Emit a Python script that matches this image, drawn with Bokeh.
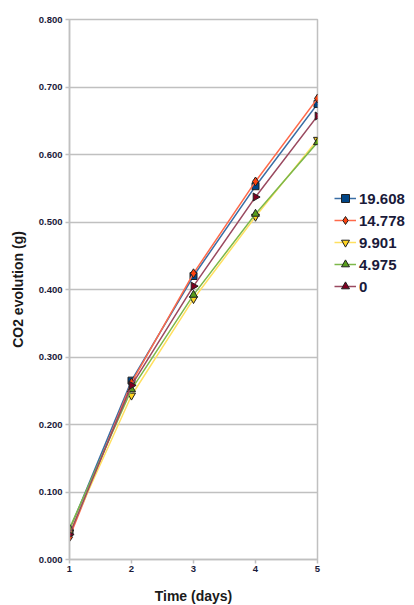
import numpy as np
from bokeh.plotting import figure
from bokeh.models import Legend, LegendItem, FixedTicker, CustomJSTickFormatter, Range1d
from bokeh.embed import file_html
from bokeh.resources import INLINE

days = [1, 2, 3, 4, 5]
series_names = ["19.608", "14.778", "9.901", "4.975", "0"]
s_19608 = [0.043, 0.265, 0.420, 0.553, 0.675]
s_14778 = [0.033, 0.262, 0.424, 0.560, 0.683]
s_9901 = [0.040, 0.243, 0.386, 0.508, 0.622]
s_4975 = [0.046, 0.252, 0.392, 0.512, 0.618]
s_0 = [0.037, 0.258, 0.405, 0.537, 0.657]
y_ticks = [0.0, 0.1, 0.2, 0.3, 0.4, 0.5, 0.6, 0.7, 0.8]

series = [s_19608, s_14778, s_9901, s_4975, s_0]
fills = ["#004586", "#ff420e", "#ffd320", "#579d1c", "#7e0021"]
lines = ["#3a6ea5", "#ff6a4a", "#ffe060", "#7db84a", "#9a4a60"]
markers = ["square", "diamond", "inverted_triangle", "triangle", "triangle"]
angles = [0, 0, 0, 0, -np.pi / 2]
sizes = [7, 9, 8, 8, 8]

p = figure(frame_width=248, frame_height=540, output_backend="svg", toolbar_location=None,
           x_range=Range1d(1, 5), y_range=Range1d(0, 0.8),
           min_border_left=69, min_border_right=0, min_border_top=19, min_border_bottom=30)
p.outline_line_color = "#c0c0c0"
p.outline_line_width = 1.5

p.xaxis.ticker = FixedTicker(ticks=days)
p.yaxis.ticker = FixedTicker(ticks=y_ticks)
p.yaxis.formatter = CustomJSTickFormatter(code="return tick.toFixed(3);")
p.xgrid.visible = False
p.ygrid.grid_line_color = "#c0c0c0"
p.ygrid.grid_line_width = 1.5
for ax in (p.xaxis, p.yaxis):
    ax.axis_line_color = "#c0c0c0"
    ax.axis_line_width = 1.5
    ax.major_tick_line_color = "#c0c0c0"
    ax.major_tick_line_width = 1.5
    ax.minor_tick_line_color = None
    ax.major_tick_out = 4
    ax.major_tick_in = 0
    ax.major_label_text_font = "Liberation Sans"
    ax.major_label_text_font_style = "bold"
    ax.major_label_text_font_size = "9.5px"
    ax.major_label_text_color = "#1a1a3a"
    ax.axis_label_text_font = "Liberation Sans"
    ax.axis_label_text_font_style = "bold"
    ax.axis_label_text_font_size = "14px"
    ax.axis_label_text_color = "#1a1a1a"
p.yaxis.major_label_standoff = 3
p.xaxis.major_label_standoff = 2
p.xaxis.axis_label = "Time (days)"
p.yaxis.axis_label = "CO2 evolution (g)"
p.xaxis.axis_label_standoff = 13
p.yaxis.axis_label_standoff = 10

items = []
for name, ys, fc, lc, mk, ang, sz in zip(series_names, series, fills, lines, markers, angles, sizes):
    r1 = p.line(days, ys, line_color=lc, line_width=1.5)
    r2 = p.scatter(days, ys, marker=mk, size=sz, angle=ang, fill_color=fc,
                   line_color="#202020", line_width=1)
    items.append(LegendItem(label=name, renderers=[r1, r2]))

legend = Legend(items=items, location=(17, 263))
legend.border_line_color = None
legend.background_fill_alpha = 0
legend.label_text_font = "Liberation Sans"
legend.label_text_font_style = "bold"
legend.label_text_font_size = "15px"
legend.label_text_color = "#1a1a3a"
legend.glyph_width = 22
legend.glyph_height = 20
legend.spacing = 2
legend.label_standoff = 3
legend.padding = 0
legend.margin = 0
legend.label_height = 14
p.add_layout(legend, "right")

open("out.html", "w").write(file_html(p, INLINE))
